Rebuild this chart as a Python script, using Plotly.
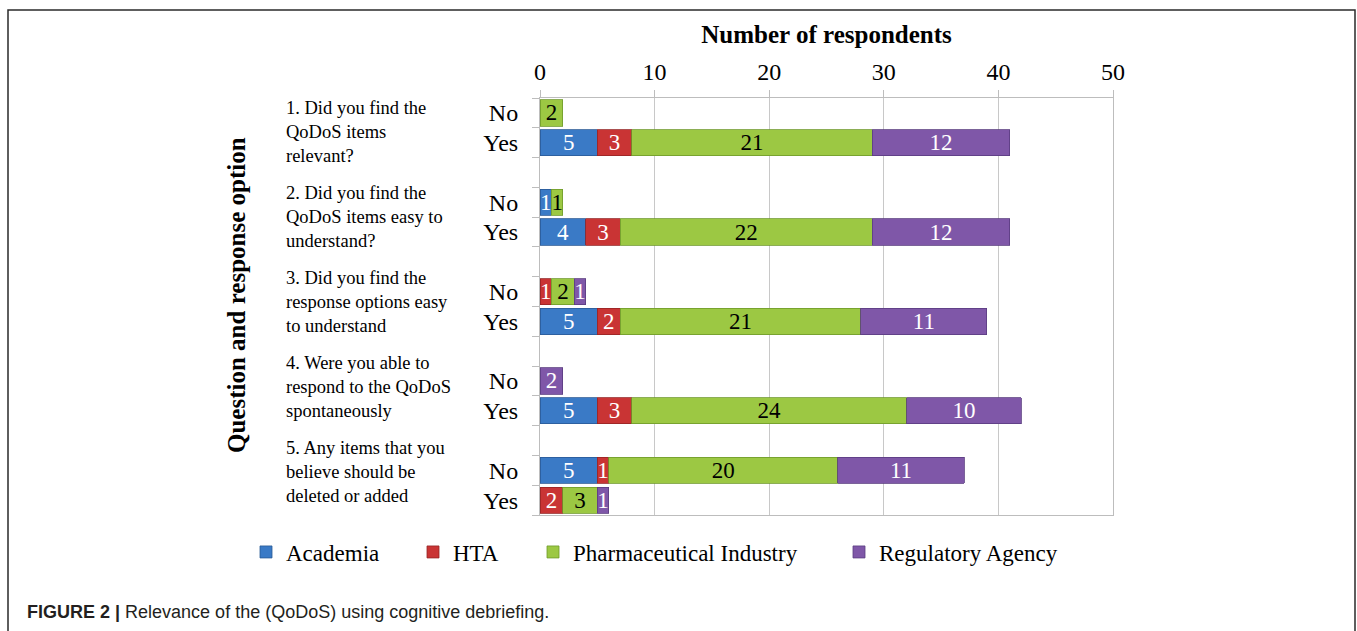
import plotly.graph_objects as go

# ---------------- data ----------------
questions = [
    "1. Did you find the<br>QoDoS items<br>relevant?",
    "2. Did you find the<br>QoDoS items easy to<br>understand?",
    "3. Did you find the<br>response options easy<br>to understand",
    "4. Were you able to<br>respond to the QoDoS<br>spontaneously",
    "5. Any items that you<br>believe should be<br>deleted or added",
]
responses = ["No", "Yes"]

# rows: Q1 No, Q1 Yes, Q2 No, Q2 Yes, ... Q5 No, Q5 Yes
academia = [0, 5, 1, 4, 0, 5, 0, 5, 5, 0]
hta = [0, 3, 0, 3, 1, 2, 0, 3, 1, 2]
pharma = [2, 21, 1, 22, 2, 21, 0, 24, 20, 3]
regulatory = [0, 12, 0, 12, 1, 11, 2, 10, 11, 1]

series_names = ["Academia", "HTA", "Pharmaceutical Industry", "Regulatory Agency"]
x_ticks = [0, 10, 20, 30, 40, 50]
x_title = "Number of respondents"
y_title = "Question and response option"
caption_bold = "FIGURE 2 |"
caption_text = " Relevance of the (QoDoS) using cognitive debriefing."

# ---------------- layout helpers ----------------
W_FIG, H_FIG = 1357, 631
L, R, T, B = 540, 1113, 98, 515
PW, PH = R - L, B - T


def px(x):
    return (x - L) / PW


def py(y):
    return (B - y) / PH


SERIF = "Liberation Serif, Times New Roman, serif"

# row positions: each question has No, Yes then a blank row
y_pos = []
y_text = []
for qi in range(len(questions)):
    for ri, r in enumerate(responses):
        y_pos.append(qi * 3 + ri)
        y_text.append(r)
n_slots = len(questions) * 3 - 1  # number of row slots (14)

colors = ["#3a7ac6", "#c93434", "#9cc843", "#7f57a8"]
line_colors = ["#2a5a96", "#962424", "#6f9a2a", "#5a3c80"]
text_colors = ["white", "white", "black", "white"]
all_series = [academia, hta, pharma, regulatory]

legend_text_x = [286, 453, 573, 879]
legend_keys = ["legend", "legend2", "legend3", "legend4"]

fig = go.Figure()
for i, (name, vals) in enumerate(zip(series_names, all_series)):
    xs = [v if v > 0 else None for v in vals]
    fig.add_trace(go.Bar(
        y=y_pos, x=xs, orientation="h", name=name,
        marker=dict(color=colors[i], line=dict(color=line_colors[i], width=0.8)),
        width=0.88,
        text=[str(v) if v > 0 else "" for v in vals],
        textposition="inside", insidetextanchor="middle",
        constraintext="none", textangle=0,
        textfont=dict(family=SERIF, size=23, color=text_colors[i]),
        legend=legend_keys[i],
        hoverinfo="x+name",
    ))

legend_layouts = {}
for i, key in enumerate(legend_keys):
    legend_layouts[key] = dict(
        x=px(legend_text_x[i] - 40), xanchor="left",
        y=py(552), yanchor="middle",
        orientation="h",
        font=dict(family=SERIF, size=23, color="black"),
        bgcolor="rgba(0,0,0,0)",
    )

annotations = []
for qi, q in enumerate(questions):
    annotations.append(dict(
        text=q, xref="paper", yref="paper", x=px(284), y=py(132 + 85 * qi),
        xanchor="left", yanchor="middle", align="left", showarrow=False,
        font=dict(family=SERIF, size=18.5, color="black"),
    ))
annotations.append(dict(
    text=y_title, xref="paper", yref="paper", x=px(236), y=py(295),
    xanchor="center", yanchor="middle", textangle=-90, showarrow=False,
    font=dict(family=SERIF, size=25, color="black", weight="bold"),
))
annotations.append(dict(
    text="<b>" + caption_bold + "</b>" + caption_text,
    xref="paper", yref="paper", x=px(25), y=py(612),
    xanchor="left", yanchor="middle", showarrow=False,
    font=dict(family="Liberation Sans, Arial, sans-serif", size=18, color="#231f20"),
))

fig.update_layout(
    width=W_FIG, height=H_FIG,
    margin=dict(l=L, r=W_FIG - R, t=T, b=H_FIG - B, autoexpand=False),
    barmode="stack",
    paper_bgcolor="white", plot_bgcolor="white",
    showlegend=True,
    annotations=annotations,
    shapes=[dict(type="rect", xref="paper", yref="paper",
                 x0=px(8), x1=px(1355), y0=py(700), y1=py(10),
                 line=dict(color="#2a2a2a", width=1.5), layer="above")],
    xaxis=dict(
        side="top", range=[0, 50], tickvals=x_ticks,
        showgrid=True, gridcolor="#c8c8c8", gridwidth=1,
        showline=True, linecolor="#bdbdbd", linewidth=1, mirror=True,
        ticks="outside", ticklen=7, tickcolor="#bdbdbd",
        tickfont=dict(family=SERIF, size=24, color="black"),
        title=dict(text=x_title, standoff=8,
                   font=dict(family=SERIF, size=25, color="black", weight="bold")),
        zeroline=False, fixedrange=True,
    ),
    yaxis=dict(
        range=[n_slots - 0.5, -0.5],
        tickmode="array", tickvals=y_pos, ticktext=y_text,
        ticks="", showgrid=False, zeroline=False,
        showline=True, linecolor="#bdbdbd", linewidth=1, mirror=True,
        ticklabelstandoff=16,
        tickfont=dict(family=SERIF, size=24, color="black"),
        minor=dict(tickmode="array",
                   tickvals=[k - 0.5 for k in range(n_slots + 1)],
                   ticks="outside", ticklen=7, tickcolor="#bdbdbd", showgrid=False),
        fixedrange=True,
    ),
    **legend_layouts,
)

fig.write_html("out.html")
